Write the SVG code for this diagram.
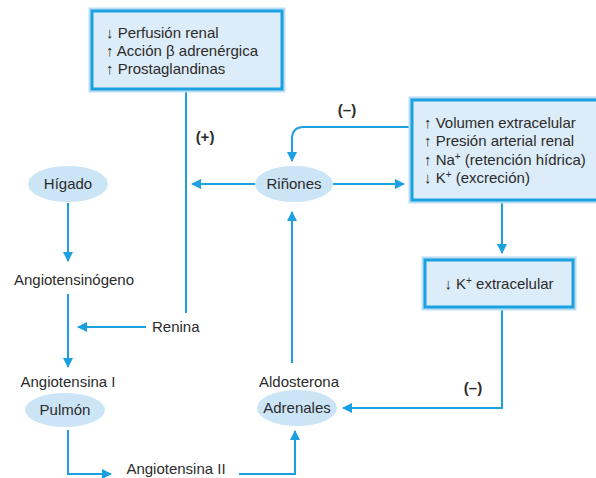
<svg xmlns="http://www.w3.org/2000/svg" width="596" height="478" viewBox="0 0 596 478">
<defs>
<style>
text{font-family:"Liberation Sans",Arial,sans-serif;font-size:15px;fill:#2b2b2b}
.b{font-weight:bold}
.ell{fill:#cce5f6}
.box{fill:#dcecf8;stroke:#1ba0e0;stroke-width:3}
.glow{fill:none;stroke:#b9def5;stroke-width:7}
.c{fill:none;stroke:#1ba0e0;stroke-width:2}
</style>
<marker id="ah" viewBox="0 0 10 10" refX="9" refY="5" markerWidth="10" markerHeight="10" orient="auto" markerUnits="userSpaceOnUse">
<path d="M0,0 L10,5 L0,10 z" fill="#1ba0e0"/>
</marker>
</defs>
<rect width="596" height="478" fill="#fff"/>
<g id="connectors">
<path class="c" d="M186,90 V313"/>
<path class="c" d="M146,327 H78" marker-end="url(#ah)"/>
<path class="c" d="M68,203 V261" marker-end="url(#ah)"/>
<path class="c" d="M68,294 V367" marker-end="url(#ah)"/>
<path class="c" d="M68,430 V474 H111" marker-end="url(#ah)"/>
<path class="c" d="M239,474 H295 V431" marker-end="url(#ah)"/>
<path class="c" d="M292,363 V212" marker-end="url(#ah)"/>
<path class="c" d="M255,184 H192" marker-end="url(#ah)"/>
<path class="c" d="M333,184 H404" marker-end="url(#ah)"/>
<path class="c" d="M412,127 H304 Q292,127 292,139 V161" marker-end="url(#ah)"/>
<path class="c" d="M502,201 V253" marker-end="url(#ah)"/>
<path class="c" d="M502,308 V408 H343" marker-end="url(#ah)"/>
</g>
<g id="box-top">
<rect class="glow" x="92" y="11" width="190" height="78"/>
<rect class="box" x="92" y="11" width="190" height="78"/>
<text x="106" y="38">↓ Perfusión renal</text>
<text x="106" y="56">↑ Acción β adrenérgica</text>
<text x="106" y="74">↑ Prostaglandinas</text>
</g>
<g id="box-right">
<rect class="glow" x="412" y="100" width="188" height="100"/>
<rect class="box" x="412" y="100" width="188" height="100"/>
<text x="424" y="128">↑ Volumen extracelular</text>
<text x="424" y="146">↑ Presión arterial renal</text>
<text x="424" y="165">↑ Na<tspan font-size="10" dy="-5">+</tspan><tspan dy="5"> (retención hídrica)</tspan></text>
<text x="424" y="183">↓ K<tspan font-size="10" dy="-5">+</tspan><tspan dy="5"> (excreción)</tspan></text>
</g>
<g id="box-k">
<rect class="glow" x="425" y="260" width="148" height="47"/>
<rect class="box" x="425" y="260" width="148" height="47"/>
<text x="499" y="289" text-anchor="middle">↓ K<tspan font-size="10" dy="-5">+</tspan><tspan dy="5"> extracelular</tspan></text>
</g>
<g id="higado">
<ellipse class="ell" cx="68" cy="184" rx="40" ry="18"/>
<text x="68" y="189" text-anchor="middle">Hígado</text>
</g>
<g id="rinones">
<ellipse class="ell" cx="294" cy="184" rx="39" ry="18"/>
<text x="294" y="189" text-anchor="middle">Riñones</text>
</g>
<g id="angiotensinogeno">
<text x="74" y="285" text-anchor="middle">Angiotensinógeno</text>
</g>
<g id="renina">
<text x="152" y="332">Renina</text>
</g>
<g id="pulmon">
<text x="68" y="387" text-anchor="middle">Angiotensina I</text>
<ellipse class="ell" cx="65" cy="410" rx="40" ry="17"/>
<text x="65" y="415" text-anchor="middle">Pulmón</text>
</g>
<g id="angiotensina2">
<text x="176" y="474" text-anchor="middle">Angiotensina II</text>
</g>
<g id="adrenales">
<text x="299" y="387" text-anchor="middle">Aldosterona</text>
<ellipse class="ell" cx="297" cy="408" rx="40" ry="18"/>
<text x="297" y="413" text-anchor="middle">Adrenales</text>
</g>
<g id="labels">
<text class="b" x="205" y="142" text-anchor="middle">(+)</text>
<text class="b" x="347" y="115" text-anchor="middle">(–)</text>
<text class="b" x="473" y="393" text-anchor="middle">(–)</text>
</g>
</svg>
